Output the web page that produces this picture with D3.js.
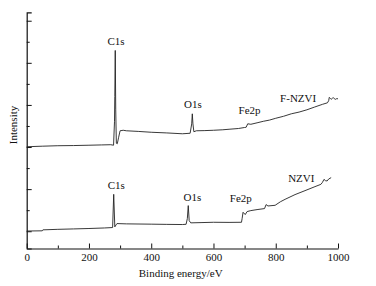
<!DOCTYPE html>
<html>
<head>
<meta charset="utf-8">
<script src="https://cdn.jsdelivr.net/npm/d3@7"></script>
<style>
  html, body { margin: 0; padding: 0; background: #fff; }
  svg { display: block; }
  svg text { font-family: 'Liberation Serif', 'Times New Roman', Times, serif !important; fill: #111; }
</style>
</head>
<body>
<svg id="chart" width="376" height="286"></svg>
<script>
// ---- data ----
const fnzviEnergy = [0, 50, 100, 150, 200, 240, 270, 279, 282, 283, 284.5, 286, 288, 291, 295, 300, 310, 320, 360, 400, 450, 500, 525, 530, 532, 534, 537, 545, 570, 600, 630, 650, 680, 700, 705, 710, 720, 740, 760, 780, 800, 825, 850, 875, 900, 925, 950, 966, 970, 972, 976, 978, 982, 985, 990, 992, 996, 1000];
const fnzviIntensity = [2.007, 2.02, 2.031, 2.035, 2.043, 2.05, 2.055, 2.043, 2.6, 3.2, 4.294, 2.9, 2.09, 2.078, 2.22, 2.386, 2.398, 2.386, 2.37, 2.351, 2.335, 2.315, 2.327, 2.55, 2.789, 2.55, 2.363, 2.386, 2.39, 2.398, 2.41, 2.422, 2.44, 2.464, 2.47, 2.552, 2.54, 2.575, 2.611, 2.64, 2.683, 2.73, 2.789, 2.83, 2.884, 2.95, 3.014, 3.05, 3.1, 3.18, 3.15, 3.133, 3.16, 3.17, 3.14, 3.133, 3.15, 3.145];

const nzviEnergy = [0, 50, 52, 100, 150, 200, 250, 276, 279.5, 283, 287, 290, 320, 400, 450, 500, 512, 516, 519, 522, 527, 560, 600, 650, 690, 692, 695, 702, 708, 720, 740, 764, 769, 775, 798, 815, 830, 862, 894, 926, 945, 950, 955, 960, 965, 970, 978];
const nzviIntensity = [0.005, 0.01, 0.033, 0.045, 0.055, 0.065, 0.078, 0.088, 0.877, 0.104, 0.15, 0.182, 0.175, 0.168, 0.163, 0.159, 0.165, 0.3, 0.609, 0.25, 0.199, 0.205, 0.213, 0.21, 0.213, 0.3, 0.45, 0.396, 0.467, 0.49, 0.514, 0.538, 0.633, 0.6, 0.616, 0.7, 0.758, 0.87, 0.964, 1.059, 1.114, 1.16, 1.232, 1.2, 1.194, 1.24, 1.273];

const xMajorTicks = [0, 200, 400, 600, 800, 1000];
const xMinorTicks = [100, 300, 500, 700, 900];
const yMajorTicks = [0, 1, 2, 3, 4, 5];
const yMinorTicks = [0.5, 1.5, 2.5, 3.5, 4.5];
const xDomain = [0, 1000];
const yDomain = [-0.41, 5.2];

const peakLabels = ["C1s", "O1s", "Fe2p", "F-NZVI", "C1s", "O1s", "Fe2p", "NZVI"];
const peakLabelEnergy = [287, 534, 716, 872, 288, 532, 688, 882];
const peakLabelIntensity = [4.424, 2.924, 2.782, 3.081, 1.012, 0.711, 0.687, 1.171];

// ---- layout ----
const W = 376, H = 286;
const FONT = "'Liberation Serif', 'Times New Roman', Times, serif";
const margin = { left: 26.7, right: 38, top: 12.3, bottom: 37.5 };
const svg = d3.select("#chart");

const x = d3.scaleLinear().domain(xDomain).range([margin.left, W - margin.right]);
const y = d3.scaleLinear().domain(yDomain).range([H - margin.bottom, margin.top]);

// x axis
const xAxisG = svg.append("g").attr("transform", `translate(0,${H - margin.bottom})`);
xAxisG.call(d3.axisBottom(x).tickValues(xMajorTicks).tickFormat(d3.format("d"))
  .tickSize(-5).tickSizeOuter(0).tickPadding(5));
const xMinorG = svg.append("g").attr("transform", `translate(0,${H - margin.bottom})`);
xMinorG.call(d3.axisBottom(x).tickValues(xMinorTicks).tickSize(-3).tickSizeOuter(0).tickFormat(""));
xMinorG.select(".domain").remove();

// y axis
const yAxisG = svg.append("g").attr("transform", `translate(${margin.left},0)`);
yAxisG.call(d3.axisLeft(y).tickValues(yMajorTicks).tickSize(-5).tickSizeOuter(-5).tickFormat(""));
const yMinorG = svg.append("g").attr("transform", `translate(${margin.left},0)`);
yMinorG.call(d3.axisLeft(y).tickValues(yMinorTicks).tickSize(-3).tickFormat(""));
yMinorG.select(".domain").remove();

svg.selectAll("g").attr("font-family", FONT);
svg.selectAll(".domain").attr("stroke", "#111").attr("stroke-width", 1.2);
svg.selectAll(".tick line").attr("stroke", "#111").attr("stroke-width", 1);
xAxisG.selectAll(".tick text")
  .attr("font-family", FONT)
  .attr("font-size", 11)
  .attr("fill", "#111");

// axis titles
svg.append("text")
  .attr("x", 180.7)
  .attr("y", 276.5)
  .attr("text-anchor", "middle")
  .attr("font-family", FONT)
  .attr("font-size", 11)
  .text("Binding energy/eV");

svg.append("text")
  .attr("transform", "translate(17,125) rotate(-90)")
  .attr("text-anchor", "middle")
  .attr("font-family", FONT)
  .attr("font-size", 11)
  .text("Intensity");

// spectra
const line = d3.line().x(d => x(d[0])).y(d => y(d[1]));
const seriesA = fnzviEnergy.map((e, i) => [e, fnzviIntensity[i]]);
const seriesB = nzviEnergy.map((e, i) => [e, nzviIntensity[i]]);

svg.append("path").datum(seriesA)
  .attr("d", line).attr("fill", "none").attr("stroke", "#222").attr("stroke-width", 0.9);
svg.append("path").datum(seriesB)
  .attr("d", line).attr("fill", "none").attr("stroke", "#222").attr("stroke-width", 0.9);

// peak labels
svg.selectAll("text.peak")
  .data(peakLabels)
  .enter().append("text")
  .attr("class", "peak")
  .attr("x", (d, i) => x(peakLabelEnergy[i]))
  .attr("y", (d, i) => y(peakLabelIntensity[i]))
  .attr("text-anchor", "middle")
  .attr("font-family", FONT)
  .attr("font-size", 11)
  .text(d => d);
</script>
</body>
</html>
